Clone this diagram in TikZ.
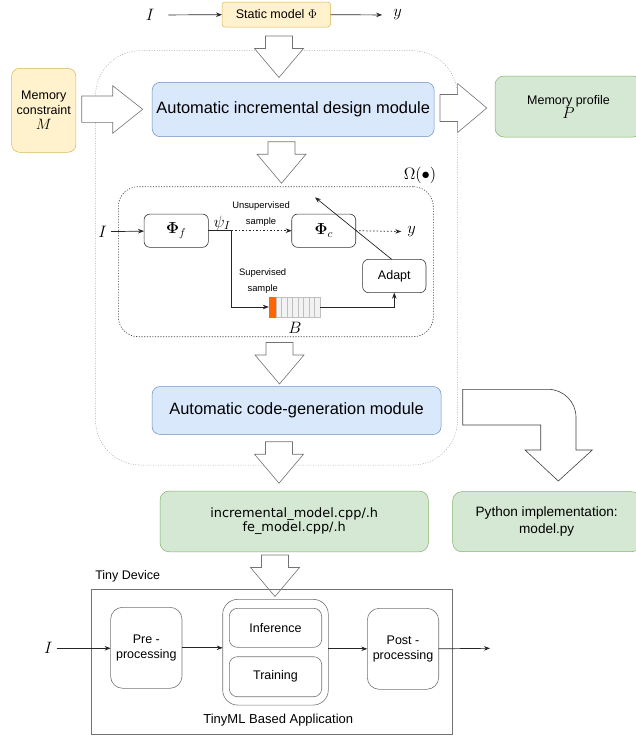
\RequirePackage{fix-cm}
\documentclass[tikz,border=0pt]{standalone}
\usepackage[no-math]{fontspec}
\setmainfont{Liberation Sans}
\newfontfamily\dejavu{DejaVu Sans}
\usetikzlibrary{arrows.meta}
\definecolor{yfill}{HTML}{FFF2CC}\definecolor{ydraw}{HTML}{D6B656}
\definecolor{bfill}{HTML}{DAE8FC}\definecolor{bdraw}{HTML}{6C8EBF}
\definecolor{gfill}{HTML}{D5E8D4}\definecolor{gdraw}{HTML}{82B366}
\definecolor{orng}{HTML}{FF6600}
\begin{document}
\begin{tikzpicture}[x=1pt,y=-1pt,
 >={Stealth[length=6pt,width=4.5pt]},
 lbl/.style={inner sep=0pt, outer sep=0pt, align=center, font=\fontsize{12.5}{15}\selectfont},
 ybox/.style={lbl, draw=ydraw, fill=yfill, line width=0.5pt},
 bbox/.style={lbl, draw=bdraw, fill=bfill, line width=0.5pt, rounded corners=8pt, font=\fontsize{16.4}{19}\selectfont},
 gbox/.style={lbl, draw=gdraw, fill=gfill, line width=0.5pt, rounded corners=9pt},
 wbox/.style={lbl, draw=black!80, line width=0.6pt, rounded corners=6pt},
 dbox/.style={lbl, draw=black!55, line width=0.6pt, rounded corners=12pt},
 blk/.style={draw=black!55, fill=white, line width=0.6pt, line join=miter},
 conn/.style={->, draw=black!85, line width=0.7pt},
 plain/.style={draw=black!85, line width=0.7pt},
 dconn/.style={conn, dash pattern=on 1.5pt off 2pt},
 mth/.style={inner sep=1pt, font=\fontsize{16.5}{19}\selectfont},
 small/.style={lbl, font=\fontsize{9.4}{16}\selectfont},
]
\useasboundingbox (0,0) rectangle (636,737);

% containers
\node[draw=black!35, dash pattern=on 1pt off 1.5pt, line width=0.5pt, rounded corners=45pt,
      minimum width=362, minimum height=414.3, inner sep=0pt] (cont) at (276.5,257.85) {};
\node[draw=black!75, dash pattern=on 1.2pt off 1.5pt, line width=0.6pt, rounded corners=20pt,
      minimum width=315, minimum height=150, inner sep=0pt] (omega) at (275.8,261.7) {};

% top
\node[mth] (Itop) at (150,15) {$I$};
\node[ybox, rounded corners=3pt, minimum width=108.6, minimum height=25] (static) at (276.3,14.5) {Static model $\Phi$};
\node[mth] (ytop) at (397.6,15) {$y$};
\draw[conn, shorten <=13pt] (Itop) -- (static);
\draw[conn, shorten >=10pt] (static) -- (ytop);

\node[ybox, rounded corners=8pt, minimum width=64.3, minimum height=84] (mem) at (43.8,110.3)
  {Memory\\constraint\\{\fontsize{15}{15}\selectfont$M$}};
\node[bbox, minimum width=282, minimum height=54.4] (design) at (293.2,109.5) {Automatic incremental design module};
\node[gbox, minimum width=147, minimum height=61, font=\fontsize{12.5}{14}\selectfont] (profile) at (568.5,106.5)
  {Memory profile\\{\fontsize{16}{14}\selectfont$P$}};

% block arrows
\foreach \cx/\ty in {279/36, 281.5/141.7, 279.5/342.5, 279/441.7, 275/555}{
  \draw[blk, shift={(\cx,\ty)}] (-13.5,0) -- (13.5,0) -- (13.5,12.5) -- (24.5,12.5) -- (0,41.5)
     -- (-24.5,12.5) -- (-13.5,12.5) -- cycle;
}
\draw[blk] (81.7,96) -- (112.7,96) -- (112.7,85.7) -- (142.7,109.3) -- (112.7,133.3) -- (112.7,122.3) -- (81.7,122.3) -- cycle;
\draw[blk] (440,94.5) -- (457.6,94.5) -- (457.6,83.5) -- (486.8,108) -- (457.6,132.5) -- (457.6,121.5) -- (440,121.5) -- cycle;
\draw[blk, draw=black!75] (462.7,389.3) -- (548,389.3) .. controls (563.5,389.3) and (576,401.8) .. (576,417.3)
   -- (576,450) -- (592.3,450) -- (558.3,481) -- (525,450) -- (540.7,450) -- (540.7,425) -- (462.7,425) -- cycle;

% omega contents
\node[mth] at (420,175) {$\Omega(\bullet)$};
\node[mth] (Iin) at (102.7,231.7) {$I$};
\node[wbox, minimum width=64.3, minimum height=33.3, font=\fontsize{16}{18}\selectfont] (phif) at (176.2,230.7) {$\mathbf{\Phi}_f$};
\node[mth] at (222,223) {$\psi_I$};
\coordinate (br) at (231.7,230.7);
\node[wbox, minimum width=64, minimum height=33.3, font=\fontsize{16}{18}\selectfont] (phic) at (323.7,230.7) {$\mathbf{\Phi}_c$};
\node[mth] (yin) at (411.7,231.7) {$y$};
\node[wbox, minimum width=63.3, minimum height=33.3] (adapt) at (394.3,276) {Adapt};
\coordinate (adtip) at (315,197.3);
\node[inner sep=0pt, minimum width=51, minimum height=19.4] (buf) at (294.5,307) {};
\draw[draw=orng, fill=orng] (269,297.3) rectangle (275.7,316.7);
\foreach \i in {0,...,7}{
  \draw[draw=black!25, fill=black!5, line width=0.4pt] (275.7+\i*5.54,297.3) rectangle ++(5.54,19.4);
}
\draw[conn, shorten <=3pt] (Iin) -- (phif);
\draw[plain] (phif.east) -- (br);
\draw[dconn] (br) -- (phic.west);
\draw[dconn, shorten >=5pt] (phic.east) -- (yin);
\draw[conn] ([xshift=-2.6pt]adapt.north) -- (adtip);
\draw[conn] (br) |- (buf.west);
\draw[conn] (buf.east) -| (adapt.south);
\node[small] at (261,214.5) {Unsupervised\\sample};
\node[small] at (262.7,281.5) {Supervised\\sample};
\node[mth] at (295,328.3) {$B$};

\node[bbox, minimum width=289, minimum height=48] (codegen) at (296.6,410.5) {Automatic code-generation module};

% outputs
\node[gbox, minimum width=268.3, minimum height=60.7, font=\dejavu\fontsize{12.9}{14.3}\selectfont] (inc) at (294.2,521.4)
  {incremental\_model.cpp/.h\\fe\_model.cpp/.h};
\node[gbox, minimum width=188, minimum height=60, font=\fontsize{13.6}{16.7}\selectfont] (py) at (546.7,521.7)
  {Python implementation:\\model.py};

% tiny device
\node[draw=black!55, line width=0.6pt, minimum width=360.6, minimum height=144.7, inner sep=0pt] (dev) at (272,661.65) {};
\node[lbl] at (127.7,576.7) {Tiny Device};
\node[dbox, minimum width=71.3, minimum height=81] (pre) at (146.3,647.8) {Pre -\\processing};
\node[dbox, rounded corners=15pt, minimum width=105.6, minimum height=105.7] (app) at (275.5,652.2) {};
\node[dbox, rounded corners=8pt, minimum width=92.4, minimum height=39] (inf) at (275.5,627.8) {Inference};
\node[dbox, rounded corners=8pt, minimum width=92.4, minimum height=40] (train) at (275.5,676.7) {Training};
\node[dbox, minimum width=71.4, minimum height=81] (post) at (403,648.8) {Post -\\processing};
\node[lbl, font=\fontsize{13}{15}\selectfont] at (278.3,720) {TinyML Based Application};
\node[mth] (Idev) at (48.3,648.3) {$I$};
\coordinate (out) at (490,648.3);
\draw[conn, shorten <=3pt] (Idev) -- (Idev -| pre.west);
\draw[conn] (pre.east) -- (pre.east -| app.west);
\draw[conn] (app.east |- post.west) -- (post.west);
\draw[conn] (post.east) -- (out);
\end{tikzpicture}
\end{document}
